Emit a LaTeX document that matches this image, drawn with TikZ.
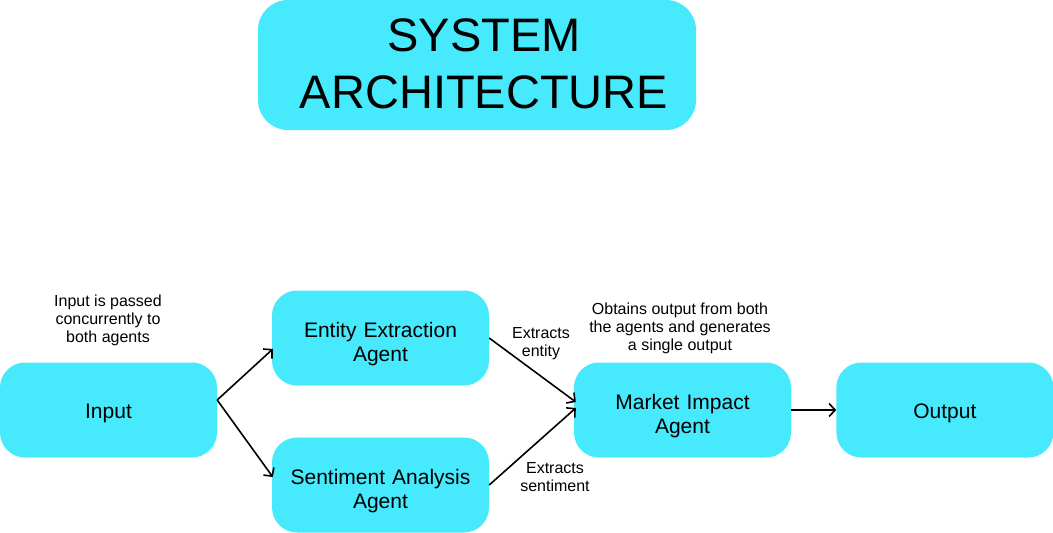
\documentclass[tikz,border=0pt]{standalone}
\usepackage{fontspec}
\setmainfont{Liberation Sans}
\usetikzlibrary{arrows.meta,positioning}
\definecolor{boxcyan}{RGB}{71,233,252}
\tikzset{
    block/.style={rectangle, fill=boxcyan, rounded corners=25pt, minimum width=217pt, minimum height=95pt, text width=200pt, align=center, inner sep=0pt, text height=22pt, font=\fontsize{21}{24}\selectfont},
    agent/.style={block, text height=28pt},
    note/.style={align=center, inner sep=0pt, font=\fontsize{16}{18}\selectfont},
    line/.style={draw, line width=1.6pt, -{Straight Barb[length=6pt,width=13pt]}}
}

\begin{document}
\begin{tikzpicture}[x=1pt, y=-1pt]
    \useasboundingbox (0,0) rectangle (1053,533);

    % Title
    \node [block, text height=, minimum width=438pt, minimum height=130pt, rounded corners=30pt] (title) at (477,65) {};
    \node [note, font=\fontsize{47}{57}\selectfont] (titletext) at (484,64) {SYSTEM\\ARCHITECTURE};

    % Agents
    \node [block] (input) at (108.5,410) {Input};
    \node [agent] (entity) at (380.5,338) {Entity Extraction\\Agent};
    \node [agent] (sentiment) at (380.5,485) {Sentiment Analysis\\Agent};
    \node [agent] (market) at (682.5,410) {Market Impact\\Agent};
    \node [block, right=45pt of market] (output) {Output};

    % Connectors
    \coordinate (fork) at ([yshift=10pt]input.east);
    \path [line] (fork) -- ([xshift=1pt, yshift=-11pt]entity.west);
    \path [line] (fork) -- ([xshift=1pt, yshift=8pt]sentiment.west);
    \path [line] (entity.east) -- ([xshift=2pt, yshift=8pt]market.west);
    \path [line] (sentiment.east) -- ([xshift=2pt, yshift=2pt]market.west);
    \path [line] (market) -- (output);

    % Notes
    \node [note] (inputnote) at (108,320) {Input is passed\\concurrently to\\both agents};
    \node [note] (entitynote) at (541,343.5) {Extracts\\entity};
    \node [note] (sentimentnote) at (555,477) {Extracts\\sentiment};
    \node [note] (marketnote) at (680,328) {Obtains output from both\\the agents and generates\\a single output};
\end{tikzpicture}
\end{document}
